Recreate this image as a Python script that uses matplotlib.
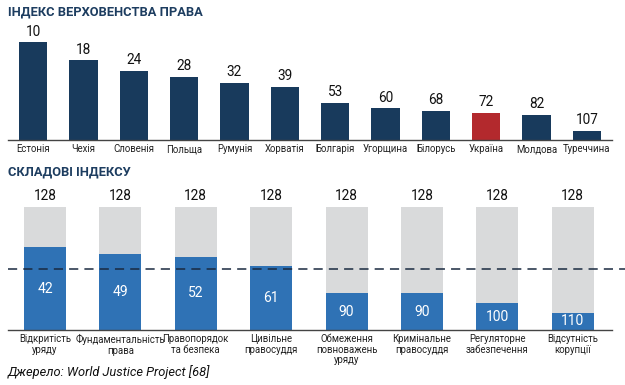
import matplotlib.pyplot as plt

plt.rcParams['font.family'] = ['Roboto', 'DejaVu Sans']

# top chart: rank labels and bar heights
countries = ['Естонія', 'Чехія', 'Словенія', 'Польща', 'Румунія', 'Хорватія',
             'Болгарія', 'Угорщина', 'Білорусь', 'Україна', 'Молдова', 'Туреччина']
ranks = [10, 18, 24, 28, 32, 39, 53, 60, 68, 72, 82, 107]
heights = [98, 80, 69, 63, 57, 53, 37, 32, 29, 27, 25, 9]

# bottom chart: components of the index
components = ['Відкритість\nуряду', 'Фундаментальність\nправа', 'Правопорядок\nта безпека',
              'Цивільне\nправосуддя', 'Обмеження\nповноважень\nуряду', 'Кримінальне\nправосуддя',
              'Регуляторне\nзабезпечення', 'Відсутність\nкорупції']
comp_ranks = [42, 49, 52, 61, 90, 90, 100, 110]
total = 128
middle = 64

navy = '#183a5c'
red = '#b3292d'
blue = '#2f72b5'
grey = '#d9dadb'
title_col = '#1d3d60'

W, H = 625, 385
fig = plt.figure(figsize=(W / 100, H / 100), dpi=100)

# --- top chart ---
ax1 = fig.add_axes([8 / W, 245 / H, 604 / W, 100 / H])
x = range(len(countries))
cols = [red if c == 'Україна' else navy for c in countries]
ax1.bar(x, heights, width=0.56, color=cols)
for i, (h, r) in enumerate(zip(heights, ranks)):
    ax1.text(i, h + 3.5, str(r), ha='center', va='bottom', fontsize=9.8, color='#111111')
ax1.set_xlim(-0.5, len(countries) - 0.5)
ax1.set_ylim(0, 100)
ax1.set_xticks(list(x))
ax1.set_xticklabels(countries, fontsize=6.9, color='#222222')
ax1.tick_params(length=0, pad=3)
ax1.set_yticks([])
for s in ['top', 'right', 'left']:
    ax1.spines[s].set_visible(False)
ax1.spines['bottom'].set_color('#444444')
ax1.spines['bottom'].set_linewidth(1)

# --- bottom chart ---
ax2 = fig.add_axes([8 / W, 55 / H, 604 / W, 123 / H])
x2 = list(range(len(components)))
ax2.bar(x2, [total] * len(x2), width=0.557, color=grey)
blue_h = [total - r for r in comp_ranks]
ax2.bar(x2, blue_h, width=0.557, color=blue)
for i, (bh, r) in enumerate(zip(blue_h, comp_ranks)):
    ax2.text(i, bh / 2, str(r), ha='center', va='center', fontsize=10, color='white')
    ax2.text(i, total + 4, str(total), ha='center', va='bottom', fontsize=9.8, color='#111111')
ax2.set_xlim(-0.49, len(components) - 0.48)
ax2.set_ylim(0, total)
ax2.plot([-0.49, len(components) - 0.48 + 13 / 75.4], [middle, middle], color='#1a2a40',
         lw=1.1, dashes=(6, 4), clip_on=False, zorder=3)
ax2.set_xticks(x2)
ax2.set_xticklabels(components, fontsize=6.9, color='#222222', linespacing=1.05)
ax2.tick_params(length=0, pad=3)
ax2.set_yticks([])
for s in ['top', 'right', 'left']:
    ax2.spines[s].set_visible(False)
ax2.spines['bottom'].set_color('#444444')
ax2.spines['bottom'].set_linewidth(1)

# titles and source
fig.text(8 / W, 1 - 12 / H, 'ІНДЕКС ВЕРХОВЕНСТВА ПРАВА', fontsize=9.3, fontweight='bold',
         color=title_col, va='center', ha='left')
fig.text(8 / W, 1 - 172 / H, 'СКЛАДОВІ ІНДЕКСУ', fontsize=9.3, fontweight='bold',
         color=title_col, va='center', ha='left')
fig.text(8 / W, 1 - 372 / H, 'Джерело: World Justice Project [68]', fontsize=9.3,
         style='italic', color='#111111', va='center', ha='left')

fig.savefig('out.png', dpi=100)
